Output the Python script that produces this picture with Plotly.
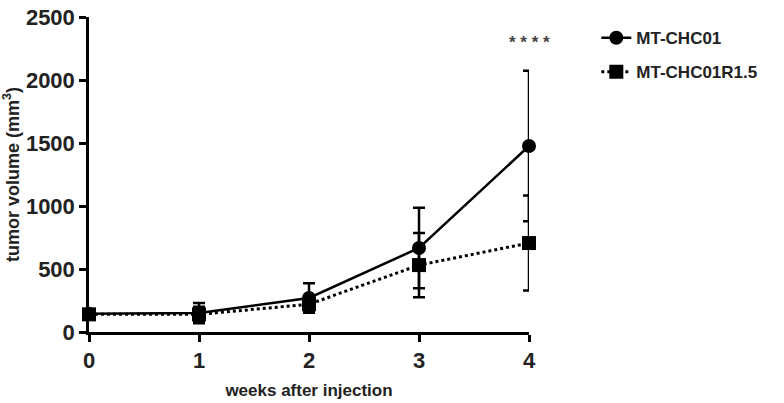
import plotly.graph_objects as go

weeks = [0, 1, 2, 3, 4]
chc01 = [145, 150, 270, 667, 1476]
chc01_sd = [20, 80, 117, 320, 598]
r15 = [140, 140, 220, 531, 706]
r15_sd = [20, 60, 60, 255, 377]

font = "Liberation Sans, Arial, sans-serif"

fig = go.Figure()
fig.add_trace(go.Scatter(
    x=weeks, y=chc01, name="<b>MT-CHC01</b>", mode="lines+markers", cliponaxis=False,
    legendgroup="a",
    line=dict(color="black", width=2.5),
    marker=dict(symbol="circle", size=14, color="black"),
    error_y=dict(type="data", array=chc01_sd, color="black", thickness=2.5, width=6),
))
fig.add_trace(go.Scatter(
    x=weeks, y=r15, name="<b>MT-CHC01R1.5</b>", mode="lines+markers", cliponaxis=False,
    legendgroup="b",
    line=dict(color="black", width=3, dash="dot"),
    marker=dict(symbol="square", size=14, color="black"),
    error_y=dict(type="data", array=r15_sd, color="black", thickness=2.5, width=6),
))

fig.add_annotation(x=4, y=2300, text="<b>* * * *</b>", showarrow=False,
                   font=dict(size=17, color="#444", family=font))

fig.update_layout(
    width=784, height=403,
    margin=dict(l=89, r=255, t=17, b=71),
    paper_bgcolor="white", plot_bgcolor="white",
    font=dict(family=font, color="#222"),
    legend=dict(x=1.153, y=0.99, xanchor="left", yanchor="top",
                font=dict(size=17, family=font, color="#222"),
                traceorder="grouped", tracegroupgap=9, itemwidth=30),
)
fig.update_xaxes(
    range=[0, 4], tickvals=weeks, ticktext=["<b>%d</b>" % w for w in weeks],
    showgrid=False, zeroline=False, showline=True, linecolor="black", linewidth=2.5,
    ticks="outside", ticklen=7, tickwidth=2.5, tickcolor="black", automargin=False,
    tickfont=dict(size=22, family=font, color="#222"),
    title=dict(text="<b>weeks after injection</b>", font=dict(size=17, family=font, color="#222"), standoff=12),
)
yt = [0, 500, 1000, 1500, 2000, 2500]
fig.update_yaxes(
    range=[0, 2500], tickvals=yt, ticktext=["<b>%d</b>" % v for v in yt],
    showgrid=False, zeroline=False, showline=True, linecolor="black", linewidth=2.5,
    ticks="outside", ticklen=7, tickwidth=2.5, tickcolor="black", automargin=False,
    ticklabeloverflow="allow",
    tickfont=dict(size=22, family=font, color="#222"),
    title=dict(text="<b>tumor volume (mm<sup>3</sup>)</b>", font=dict(size=18, family=font, color="#222"), standoff=4),
)

# drop the default 8px body margin so the figure sits at the page corner
fig.write_html("out.html", config={"displayModeBar": False},
               post_script="document.body.style.margin='0';")
